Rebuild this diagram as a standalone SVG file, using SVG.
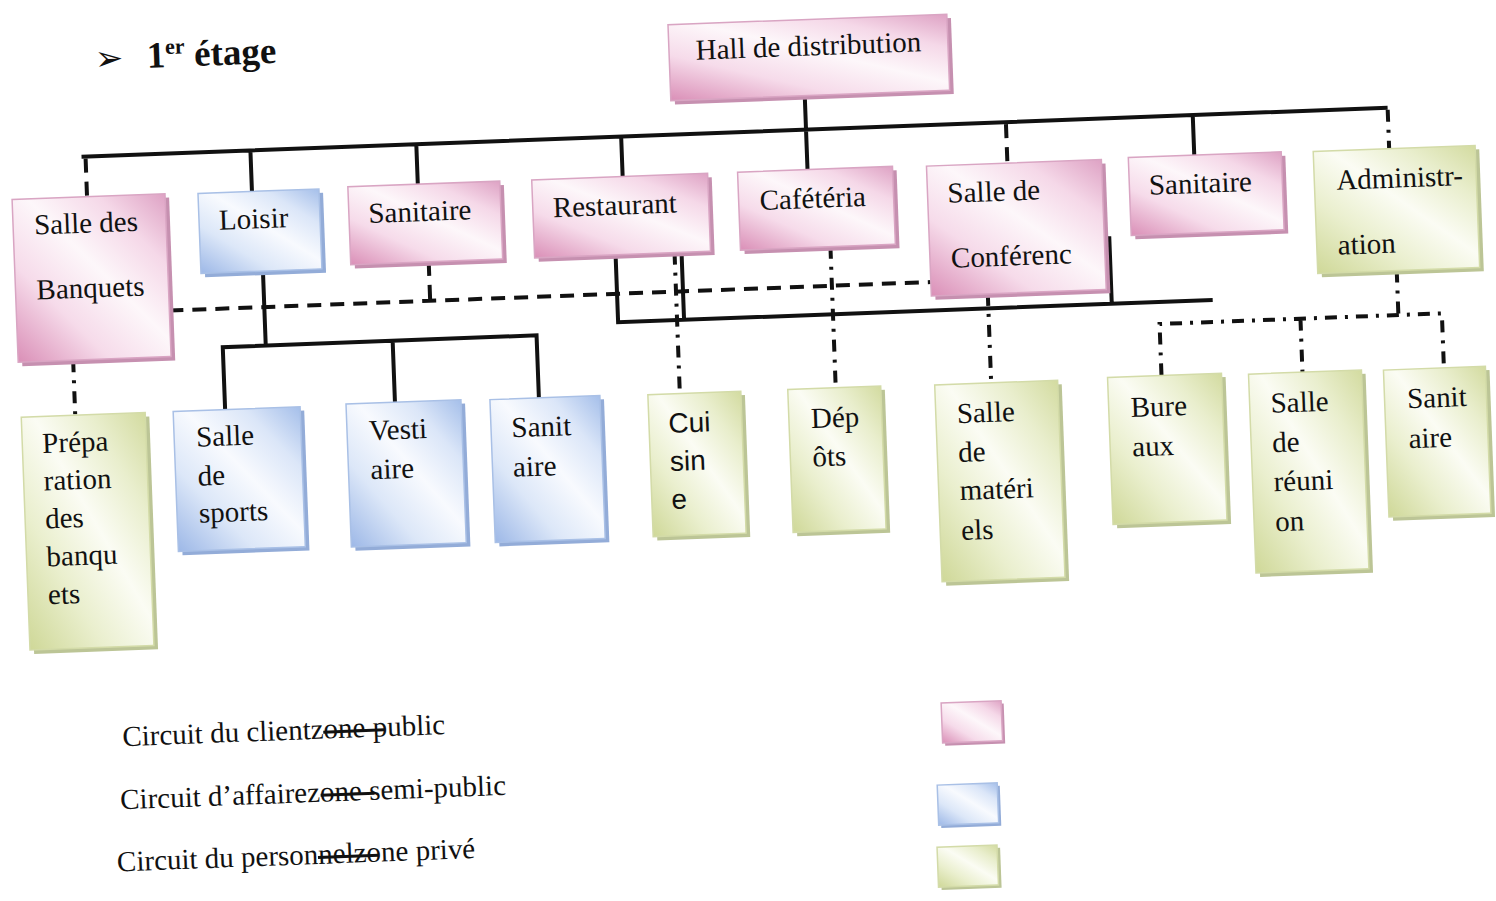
<svg xmlns="http://www.w3.org/2000/svg" width="1496" height="901" viewBox="0 0 1496 901">
<defs>
<linearGradient id="gp" x1="0" y1="1" x2="1" y2="0">
<stop offset="0" stop-color="#da8fb7"/><stop offset="0.3" stop-color="#f6dbea"/><stop offset="0.55" stop-color="#fdf7fa"/><stop offset="0.78" stop-color="#f5d8e8"/><stop offset="1" stop-color="#dea2c4"/>
</linearGradient>
<linearGradient id="gb" x1="0" y1="1" x2="1" y2="0">
<stop offset="0" stop-color="#9db8e7"/><stop offset="0.3" stop-color="#dce7f8"/><stop offset="0.55" stop-color="#f8fafe"/><stop offset="0.78" stop-color="#dbe6f8"/><stop offset="1" stop-color="#a5bfea"/>
</linearGradient>
<linearGradient id="gg" x1="0" y1="1" x2="1" y2="0">
<stop offset="0" stop-color="#cfd898"/><stop offset="0.3" stop-color="#eaefce"/><stop offset="0.55" stop-color="#fbfcf4"/><stop offset="0.78" stop-color="#e9eecd"/><stop offset="1" stop-color="#d3dba0"/>
</linearGradient>
<style>
.t{font-family:"Liberation Serif","Times New Roman",serif;font-size:29px;fill:#111}
.s{font-family:"Liberation Sans",Arial,sans-serif;font-size:28px;fill:#111}
.p{fill:url(#gp);stroke:#d9a5c3;stroke-width:1.5}
.b{fill:url(#gb);stroke:#a9c0e6;stroke-width:1.5}
.g{fill:url(#gg);stroke:#d3dba8;stroke-width:1.5}
.shp{fill:#c690b0}
.shb{fill:#93acd8}
.shg{fill:#bcc596}
.ln{fill:none;stroke:#111;stroke-width:4}
.da{stroke-dasharray:14 9}
.dd{stroke-dasharray:12 8 3 8}
.st{stroke:#111;stroke-width:3}
</style>
</defs>
<g transform="rotate(-2.15 748 450)">
<g id="title">
<text x="110" y="46" style="font-family:'DejaVu Sans',sans-serif;font-size:34px;fill:#111">➢</text>
<text x="162" y="45.5" style="font-family:'Liberation Serif',serif;font-size:37px;font-weight:bold;fill:#111">1<tspan dy="-13" style="font-size:22px">er</tspan><tspan dy="13"> étage</tspan></text>
</g>
<g id="connectors">
<path class="ln" d="M93,132 H1400 M818,98 V172 M262,132 V173 M428,132 V172 M633,132 V172 M1205,132 V172"/>
<path class="ln" d="M270,253 V327.5 M227,390 V327.5 H541 V390 M397,327.5 V389"/>
<path class="ln" d="M623,250 V317.5 H1218 M689,250 V317.5 M1117,250 V317.5"/>
<path class="ln da" d="M97,134 V172 M1018,134 V173 M175,289 H937 M436,250 V289"/>
<path class="ln dd" d="M1400,134 V173 M77,335 V390 M682,250 V391 M838,250 V391 M993.5,303 V392 M1403,295 V339.5"/>
<path class="ln dd" d="M1164,391 V339.5 H1446.5 V394 M1305,339.5 V393"/>
</g>
<g id="n-hall"><rect class="shp" x="688" y="26" width="279" height="76"/><rect class="p" x="684" y="22" width="279" height="76"/><text class="t" x="823.5" y="58" text-anchor="middle">Hall de distribution</text></g>
<g id="n-banquets"><rect class="shp" x="26" y="176" width="153" height="163"/><rect class="p" x="22" y="172" width="153" height="163"/><text class="t" x="43" y="208">Salle des</text><text class="t" x="43" y="273">Banquets</text></g>
<g id="n-loisir"><rect class="shb" x="212" y="177" width="121" height="80"/><rect class="b" x="208" y="173" width="121" height="80"/><text class="t" x="228" y="210">Loisir</text></g>
<g id="n-sanitaire1"><rect class="shp" x="362" y="176" width="152" height="78"/><rect class="p" x="358" y="172" width="152" height="78"/><text class="t" x="377.5" y="209">Sanitaire</text></g>
<g id="n-restaurant"><rect class="shp" x="546" y="176" width="176" height="78"/><rect class="p" x="542" y="172" width="176" height="78"/><text class="t" x="562" y="210">Restaurant</text></g>
<g id="n-cafeteria"><rect class="shp" x="752" y="176" width="155" height="78"/><rect class="p" x="748" y="172" width="155" height="78"/><text class="t" x="769" y="210.5">Cafétéria</text></g>
<g id="n-conference"><rect class="shp" x="941" y="177" width="175" height="130"/><rect class="p" x="937" y="173" width="175" height="130"/><text class="t" x="957" y="210.5">Salle de</text><text class="t" x="958" y="275.5">Conférenc</text></g>
<g id="n-sanitaire2"><rect class="shp" x="1143" y="176" width="153" height="78"/><rect class="p" x="1139" y="172" width="153" height="78"/><text class="t" x="1158.5" y="210">Sanitaire</text></g>
<g id="n-administration"><rect class="shg" x="1328" y="177" width="162" height="122"/><rect class="g" x="1324" y="173" width="162" height="122"/><text class="t" x="1346" y="212">Administr-</text><text class="t" x="1345" y="277">ation</text></g>
<g id="n-preparation"><rect class="shg" x="27" y="394" width="124" height="233"/><rect class="g" x="23" y="390" width="124" height="233"/><text class="t" x="43" y="426.5">Prépa</text><text class="t" x="43" y="464">ration</text><text class="t" x="43" y="502">des</text><text class="t" x="43" y="540">banqu</text><text class="t" x="43" y="578">ets</text></g>
<g id="n-sports"><rect class="shb" x="179" y="394" width="127" height="140"/><rect class="b" x="175" y="390" width="127" height="140"/><text class="t" x="197" y="426">Salle</text><text class="t" x="197" y="465">de</text><text class="t" x="197" y="502">sports</text></g>
<g id="n-vestiaire"><rect class="shb" x="352" y="393" width="115" height="143"/><rect class="b" x="348" y="389" width="115" height="143"/><text class="t" x="370" y="426">Vesti</text><text class="t" x="370" y="465">aire</text></g>
<g id="n-sanitaire-b"><rect class="shb" x="496" y="394" width="110" height="143"/><rect class="b" x="492" y="390" width="110" height="143"/><text class="t" x="512.5" y="428.5">Sanit</text><text class="t" x="512.5" y="468">aire</text></g>
<g id="n-cuisine"><rect class="shg" x="654" y="395" width="93" height="142"/><rect class="g" x="650" y="391" width="93" height="142"/><text class="s" x="669.5" y="430">Cui</text><text class="s" x="669.5" y="468">sin</text><text class="s" x="669.5" y="506">e</text></g>
<g id="n-depots"><rect class="shg" x="794" y="395" width="93" height="143"/><rect class="g" x="790" y="391" width="93" height="143"/><text class="t" x="812" y="430.5">Dép</text><text class="t" x="812" y="469">ôts</text></g>
<g id="n-materiels"><rect class="shg" x="941" y="396" width="123" height="197"/><rect class="g" x="937" y="392" width="123" height="197"/><text class="t" x="958" y="431">Salle</text><text class="t" x="958" y="470">de</text><text class="t" x="958" y="508">matéri</text><text class="t" x="958" y="548">els</text></g>
<g id="n-bureaux"><rect class="shg" x="1114" y="395" width="114" height="147"/><rect class="g" x="1110" y="391" width="114" height="147"/><text class="t" x="1132" y="431.5">Bure</text><text class="t" x="1132" y="471">aux</text></g>
<g id="n-reunion"><rect class="shg" x="1255" y="397" width="113" height="199"/><rect class="g" x="1251" y="393" width="113" height="199"/><text class="t" x="1272" y="432.5">Salle</text><text class="t" x="1272" y="472">de</text><text class="t" x="1272" y="511">réuni</text><text class="t" x="1272" y="551">on</text></g>
<g id="n-sanitaire-r"><rect class="shg" x="1390" y="398" width="102" height="147"/><rect class="g" x="1386" y="394" width="102" height="147"/><text class="t" x="1408.5" y="433">Sanit</text><text class="t" x="1408.5" y="473">aire</text></g>
<g id="legend">
<text class="t" x="112" y="722.5">Circuit du clientzone public</text>
<line class="st" x1="313" y1="716" x2="374" y2="716"/>
<text class="t" x="107.5" y="785.5">Circuit d’affairezone semi-public</text>
<line class="st" x1="308" y1="779" x2="362" y2="779"/>
<text class="t" x="102" y="847.5">Circuit du personnelzone privé</text>
<line class="st" x1="303" y1="841" x2="364" y2="841"/>
<rect class="shp" x="934" y="713" width="60" height="40"/><rect class="p" x="931.5" y="710" width="60" height="40"/>
<rect class="shb" x="927" y="795" width="60" height="40"/><rect class="b" x="924.5" y="792" width="60" height="40"/>
<rect class="shg" x="925" y="857" width="60" height="40"/><rect class="g" x="922" y="854" width="60" height="40"/>
</g>
</g>
</svg>
